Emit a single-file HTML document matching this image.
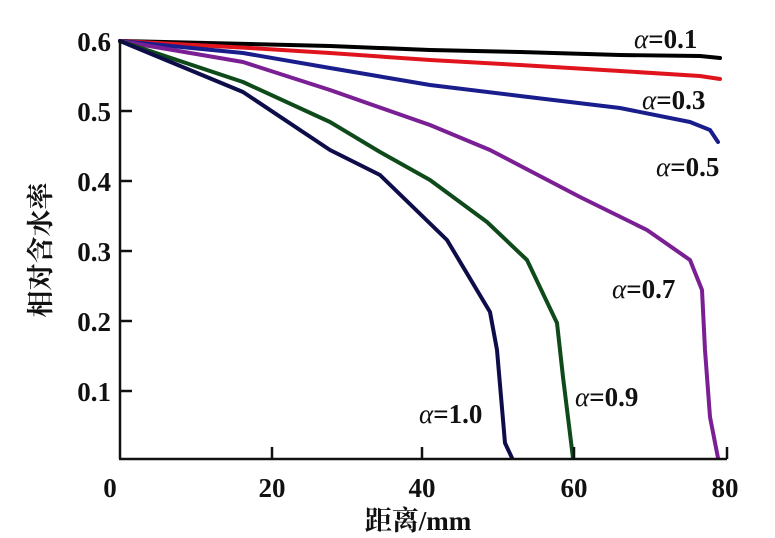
<!DOCTYPE html>
<html><head><meta charset="utf-8"><style>
html,body{margin:0;padding:0;background:#fff;}
svg{display:block;}
.t{font-family:"Liberation Serif","Noto Serif CJK SC",serif;font-weight:bold;font-size:27px;fill:#111;}
</style></head><body>
<svg width="775" height="538" viewBox="0 0 775 538" xmlns="http://www.w3.org/2000/svg">
<g fill="none" stroke-width="4" stroke-linejoin="round" stroke-linecap="round">
<polyline stroke="#000" points="120,41 250,44 330,46 430,50 520,52 620,55 700,56 720,58"/>
<polyline stroke="#e0141c" points="120,41 250,48 330,53 430,60 520,65 620,71 700,76 720,79"/>
<polyline stroke="#1a1e8c" points="120,41 243,53 330,68 430,85 520,96 620,108 690,122 710,130 718,142"/>
<polyline stroke="#7a1f94" points="120,41 243,62 330,90 430,125 490,150 580,197 647,230 690,260 702,290 705,350 710,417 718,458"/>
<polyline stroke="#0e4a1a" points="120,41 243,82 330,122 380,152 430,180 487,222 527,260 557,323 563,377 573,458"/>
<polyline stroke="#0d0d4a" points="120,41 243,92 330,150 380,175 447,240 490,312 497,350 505,443 512,458"/>
</g>
<g stroke="#111" stroke-width="2.5" fill="none">
<line x1="120" y1="40" x2="120" y2="459"/>
<line x1="119" y1="459" x2="727" y2="459"/>
<line x1="120" y1="111" x2="132" y2="111"/>
<line x1="120" y1="181" x2="132" y2="181"/>
<line x1="120" y1="251" x2="132" y2="251"/>
<line x1="120" y1="321" x2="132" y2="321"/>
<line x1="120" y1="391" x2="132" y2="391"/>
<line x1="272" y1="459" x2="272" y2="447"/>
<line x1="422" y1="459" x2="422" y2="447"/>
<line x1="574" y1="459" x2="574" y2="447"/>
<line x1="727" y1="459" x2="727" y2="447"/>
</g>
<g class="t" text-anchor="end">
<text x="111" y="51">0.6</text>
<text x="111" y="121">0.5</text>
<text x="111" y="191">0.4</text>
<text x="111" y="261">0.3</text>
<text x="111" y="331">0.2</text>
<text x="111" y="401">0.1</text>
</g>
<g class="t" text-anchor="middle">
<text x="110" y="497">0</text>
<text x="272" y="497">20</text>
<text x="422" y="497">40</text>
<text x="574" y="497">60</text>
<text x="725" y="497">80</text>
<text x="418" y="530">距离/mm</text>
</g>
<text class="t" transform="translate(50,250) rotate(-90)" text-anchor="middle">相对含水率</text>
<g class="t">
<text x="634" y="48"><tspan font-style="italic" font-weight="normal">α</tspan>=0.1</text>
<text x="642" y="109"><tspan font-style="italic" font-weight="normal">α</tspan>=0.3</text>
<text x="656" y="176"><tspan font-style="italic" font-weight="normal">α</tspan>=0.5</text>
<text x="612" y="298"><tspan font-style="italic" font-weight="normal">α</tspan>=0.7</text>
<text x="575" y="406"><tspan font-style="italic" font-weight="normal">α</tspan>=0.9</text>
<text x="419" y="423"><tspan font-style="italic" font-weight="normal">α</tspan>=1.0</text>
</g>
</svg>
</body></html>
